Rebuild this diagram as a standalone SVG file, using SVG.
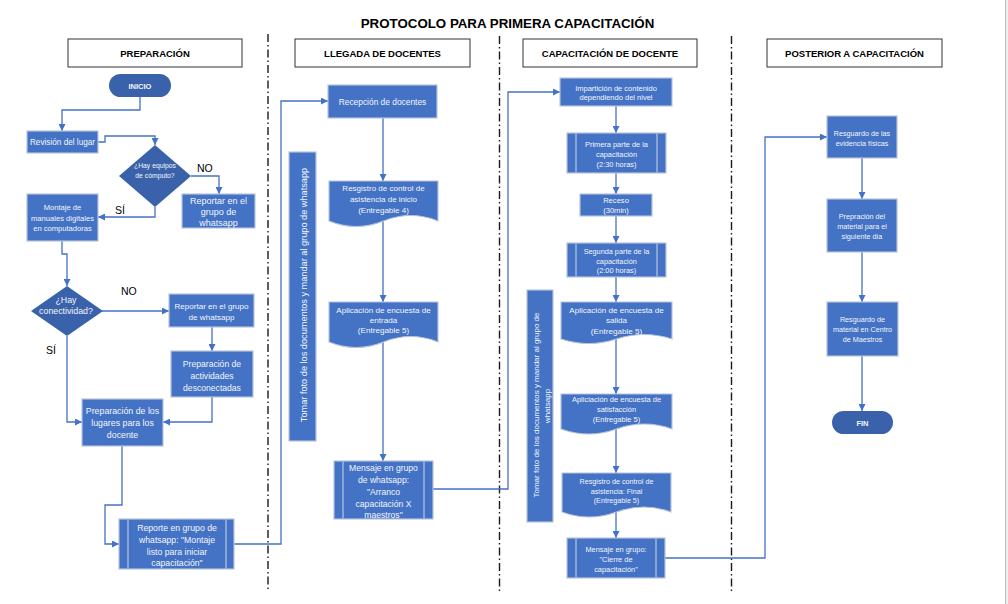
<svg xmlns="http://www.w3.org/2000/svg" width="1008" height="604" viewBox="0 0 1008 604">
<style>
.t{font-family:"Liberation Sans",Arial,sans-serif;fill:#F3F6FC;text-anchor:middle}
.tb{font-family:"Liberation Sans",Arial,sans-serif;fill:#F3F6FC;text-anchor:middle;font-weight:bold}
.h{font-family:"Liberation Sans",Arial,sans-serif;fill:#000;text-anchor:middle;font-weight:bold;font-size:9.5px}
.lbl{font-family:"Liberation Sans",Arial,sans-serif;fill:#000;font-size:10.5px}
.box{fill:#4472C4;stroke:#B7C3DA;stroke-width:1.2}
.dark{fill:#3A62AA}
.hdr{fill:#fff;stroke:#333;stroke-width:1}
.inner{stroke:#C3CDE3;stroke-width:1.1;fill:none}
.sep{stroke:#1a1a1a;stroke-width:1.4;stroke-dasharray:8 3 1.5 3;fill:none}
.ca{fill:none;stroke:#4472C4;stroke-width:1.3;marker-end:url(#arr)}
</style>
<defs>
<marker id="arr" viewBox="0 0 10 10" refX="10" refY="5" markerWidth="7" markerHeight="7" markerUnits="userSpaceOnUse" orient="auto"><path d="M0,0 L10,5 L0,10 z" fill="#4472C4"/></marker>
</defs>
<rect width="1008" height="604" fill="#fff"/>
<rect x="1005" y="0" width="3" height="604" fill="#EEEEEE"/>
<line x1="1005.5" y1="0" x2="1005.5" y2="604" stroke="#BDBDBD" stroke-width="1"/>

<text x="507.5" y="28" style="font-family:'Liberation Sans',Arial,sans-serif;font-weight:bold;font-size:13.3px;text-anchor:middle;fill:#000">PROTOCOLO PARA PRIMERA CAPACITACIÓN</text>

<g id="separators">
<line class="sep" x1="268" y1="34" x2="268" y2="589"/>
<line class="sep" x1="499.5" y1="36" x2="499.5" y2="592"/>
<line class="sep" x1="731.5" y1="36" x2="731.5" y2="592"/>
</g>

<g id="header-preparacion"><rect class="hdr" x="68" y="39" width="174" height="28"/><text class="h" x="155" y="57">PREPARACIÓN</text></g>
<g id="header-llegada"><rect class="hdr" x="295" y="39" width="175" height="28"/><text class="h" x="382.5" y="57">LLEGADA DE DOCENTES</text></g>
<g id="header-capacitacion"><rect class="hdr" x="523" y="39" width="174" height="28"/><text class="h" x="610" y="57">CAPACITACIÓN DE DOCENTE</text></g>
<g id="header-posterior"><rect class="hdr" x="767" y="39" width="175" height="28"/><text class="h" x="854.5" y="57">POSTERIOR A CAPACITACIÓN</text></g>

<g id="connectors">
<polyline class="ca" points="140,97 140,110 62,110 62,131"/>
<polyline class="ca" points="98,142 105,142 105,136 155,136 155,145"/>
<polyline class="ca" points="191,176 219,176 219,194"/>
<polyline class="ca" points="155,207 155,217 98,217"/>
<polyline class="ca" points="62,241 62,254 67,254 67,286"/>
<polyline class="ca" points="102,311 169,311"/>
<polyline class="ca" points="212,327 212,351"/>
<polyline class="ca" points="212,397 212,422 163,422"/>
<polyline class="ca" points="67,336 67,422 82,422"/>
<polyline class="ca" points="122,446 122,505 105,505 105,544 119,544"/>
<polyline class="ca" points="234,544 281,544 281,101 328,101"/>
<polyline class="ca" points="383,118 383,181"/>
<polyline class="ca" points="383,221 383,302"/>
<polyline class="ca" points="383,342 383,461"/>
<polyline class="ca" points="433,489 508,489 508,92 560,92"/>
<polyline class="ca" points="616,106 616,133"/>
<polyline class="ca" points="616,173 616,194"/>
<polyline class="ca" points="616,216 616,243"/>
<polyline class="ca" points="616,277 616,302"/>
<polyline class="ca" points="616,339 616,394"/>
<polyline class="ca" points="616,429 616,473"/>
<polyline class="ca" points="616,512 616,538"/>
<polyline class="ca" points="665,558 765,558 765,137 827,137"/>
<polyline class="ca" points="862,158 862,199"/>
<polyline class="ca" points="862,252 862,302"/>
<polyline class="ca" points="862,356 862,411"/>
</g>

<g id="inicio"><rect class="dark" x="109" y="74" width="62" height="23" rx="11.5"/><text class="tb" x="140" y="88.5" font-size="7.5">INICIO</text></g>
<g id="revision"><rect class="box" x="27" y="131" width="71" height="22"/><text class="t" x="62.5" y="145" font-size="8.2">Revisión del lugar</text></g>
<g id="dec-equipos"><polygon class="dark" points="155,145 191,176 155,207 119,176"/><text class="t" x="155" y="168" font-size="6.8">¿Hay equipos</text><text class="t" x="155" y="178" font-size="6.8">de cómputo?</text></g>
<g id="reportar1"><rect class="box" x="182" y="194" width="73" height="34"/><text class="t" x="218.5" y="204" font-size="9">Reportar en el</text><text class="t" x="218.5" y="215" font-size="9">grupo de</text><text class="t" x="218.5" y="226" font-size="9">whatsapp</text></g>
<g id="montaje"><rect class="box" x="27" y="194" width="71" height="47"/><text class="t" x="62.5" y="210" font-size="7.6">Montaje de</text><text class="t" x="62.5" y="220.5" font-size="7.6">manuales digitales</text><text class="t" x="62.5" y="231" font-size="7.6">en computadoras</text></g>
<g id="dec-conectividad"><polygon class="dark" points="67,286 103,311 67,336 31,311"/><text class="t" x="66" y="303" font-size="8.8">¿Hay</text><text class="t" x="66" y="314" font-size="8.8">conectividad?</text></g>
<g id="reportar2"><rect class="box" x="169" y="294" width="85" height="33"/><text class="t" x="211.5" y="309" font-size="8.1">Reportar en el grupo</text><text class="t" x="211.5" y="319.5" font-size="8.1">de whatsapp</text></g>
<g id="prep-actividades"><rect class="box" x="171" y="351" width="82" height="46"/><text class="t" x="212" y="366.5" font-size="8.6">Preparación de</text><text class="t" x="212" y="378.5" font-size="8.6">actividades</text><text class="t" x="212" y="390.5" font-size="8.6">desconectadas</text></g>
<g id="prep-lugares"><rect class="box" x="82" y="399" width="81" height="47"/><text class="t" x="122.5" y="414" font-size="8.8">Preparación de los</text><text class="t" x="122.5" y="426" font-size="8.8">lugares para los</text><text class="t" x="122.5" y="437.5" font-size="8.8">docente</text></g>
<g id="reporte-montaje"><rect class="box" x="119" y="519" width="115" height="50"/><line class="inner" x1="128" y1="519.5" x2="128" y2="568.5"/><line class="inner" x1="226" y1="519.5" x2="226" y2="568.5"/><text class="t" x="177" y="530.5" font-size="8.7">Reporte en grupo de</text><text class="t" x="177" y="542.5" font-size="8.7">whatsapp: "Montaje</text><text class="t" x="177" y="554.5" font-size="8.7">listo para iniciar</text><text class="t" x="177" y="566" font-size="8.7">capacitación"</text></g>
<g id="labels-prep"><text class="lbl" x="197" y="172">NO</text><text class="lbl" x="115" y="214">SÍ</text><text class="lbl" x="121" y="295">NO</text><text class="lbl" x="46" y="354">SÍ</text></g>

<g id="recepcion"><rect class="box" x="328" y="85" width="109" height="33"/><text class="t" x="382.5" y="105" font-size="8.4">Recepción de docentes</text></g>
<g id="registro-inicio"><path class="box" d="M329,181 H438 V221 Q410.75,210 383.5,221 T329,221 Z"/><text class="t" x="383.5" y="191" font-size="8">Resgistro de control de</text><text class="t" x="383.5" y="202" font-size="8">asistencia de inicio</text><text class="t" x="383.5" y="212.5" font-size="8">(Entregable 4)</text></g>
<g id="encuesta-entrada"><path class="box" d="M329,302 H438 V342 Q410.75,331 383.5,342 T329,342 Z"/><text class="t" x="383.5" y="312.5" font-size="8.1">Aplicación de encuesta de</text><text class="t" x="383.5" y="322.5" font-size="8.1">entrada</text><text class="t" x="383.5" y="333" font-size="8.1">(Entregable 5)</text></g>
<g id="mensaje-arranco"><rect class="box" x="334" y="461" width="99" height="58"/><line class="inner" x1="343" y1="461.5" x2="343" y2="518.5"/><line class="inner" x1="424" y1="461.5" x2="424" y2="518.5"/><text class="t" x="383.5" y="470.5" font-size="8.6">Mensaje en grupo</text><text class="t" x="383.5" y="482.5" font-size="8.6">de whatsapp:</text><text class="t" x="383.5" y="494.5" font-size="8.6">"Arranco</text><text class="t" x="383.5" y="506.5" font-size="8.6">capacitación X</text><text class="t" x="383.5" y="518" font-size="8.6">maestros"</text></g>
<g id="foto-llegada"><rect class="box" x="289" y="152" width="27" height="289"/><text class="t" transform="translate(306.5,295) rotate(-90)" font-size="9.2">Tomar foto de los documentos y mandar al grupo de whatsapp</text></g>

<g id="imparticion"><rect class="box" x="560" y="78" width="112" height="28"/><text class="t" x="616" y="91" font-size="7.5">Impartición de contenido</text><text class="t" x="616" y="99.5" font-size="7.5">dependiendo del nivel</text></g>
<g id="primera-parte"><rect class="box" x="567" y="133" width="99" height="40"/><line class="inner" x1="576" y1="133.5" x2="576" y2="172.5"/><line class="inner" x1="657" y1="133.5" x2="657" y2="172.5"/><text class="t" x="616.5" y="147" font-size="7.4">Primera parte de la</text><text class="t" x="616.5" y="157" font-size="7.4">capacitación</text><text class="t" x="616.5" y="166.5" font-size="7.4">(2:30 horas)</text></g>
<g id="receso"><rect class="box" x="580" y="194" width="72" height="22"/><text class="t" x="616" y="203" font-size="7.6">Receso</text><text class="t" x="616" y="213" font-size="7.6">(30min)</text></g>
<g id="segunda-parte"><rect class="box" x="567" y="243" width="99" height="34"/><line class="inner" x1="576" y1="243.5" x2="576" y2="276.5"/><line class="inner" x1="657" y1="243.5" x2="657" y2="276.5"/><text class="t" x="616.5" y="254" font-size="7.3">Segunda parte de la</text><text class="t" x="616.5" y="263.5" font-size="7.3">capacitación</text><text class="t" x="616.5" y="273" font-size="7.3">(2:00 horas)</text></g>
<g id="encuesta-salida"><path class="box" d="M561,302 H672 V339 Q644.25,330 616.5,339 T561,339 Z"/><text class="t" x="616.5" y="312.5" font-size="8.1">Aplicación de encuesta de</text><text class="t" x="616.5" y="322.5" font-size="8.1">salida</text><text class="t" x="616.5" y="334" font-size="8.1">(Entregable 5)</text></g>
<g id="encuesta-satisfaccion"><path class="box" d="M561,394 H672 V429 Q644.25,419 616.5,429 T561,429 Z"/><text class="t" x="616.5" y="402" font-size="7.5">Apliciación de encuesta de</text><text class="t" x="616.5" y="412" font-size="7.5">satisfacción</text><text class="t" x="616.5" y="422" font-size="7.5">(Entregable 5)</text></g>
<g id="registro-final"><path class="box" d="M562,473 H671 V512 Q643.75,502 616.5,512 T562,512 Z"/><text class="t" x="616.5" y="484" font-size="7.2">Resgistro de control de</text><text class="t" x="616.5" y="493.5" font-size="7.2">asistencia: Final</text><text class="t" x="616.5" y="503" font-size="7.2">(Entregable 5)</text></g>
<g id="mensaje-cierre"><rect class="box" x="567" y="538" width="98" height="40"/><line class="inner" x1="576" y1="538.5" x2="576" y2="577.5"/><line class="inner" x1="656" y1="538.5" x2="656" y2="577.5"/><text class="t" x="616" y="552" font-size="7.4">Mensaje en grupo:</text><text class="t" x="616" y="562" font-size="7.4">"Cierre de</text><text class="t" x="616" y="572" font-size="7.4">capacitación"</text></g>
<g id="foto-capacitacion"><rect class="box" x="527" y="290" width="26" height="232"/><text class="t" transform="translate(539,405) rotate(-90)" font-size="8">Tomar foto de los documentos y mandar al grupo de</text><text class="t" transform="translate(550,406) rotate(-90)" font-size="8">whatsapp</text></g>

<g id="resguardo-evidencia"><rect class="box" x="827" y="116" width="70" height="42"/><text class="t" x="862" y="136" font-size="7.2">Resguardo de las</text><text class="t" x="862" y="145.5" font-size="7.2">evidencia físicas</text></g>
<g id="preparacion-material"><rect class="box" x="827" y="199" width="70" height="53"/><text class="t" x="862" y="219" font-size="7.2">Prepración del</text><text class="t" x="862" y="229" font-size="7.2">material para el</text><text class="t" x="862" y="238.5" font-size="7.2">siguiente día</text></g>
<g id="resguardo-material"><rect class="box" x="827" y="302" width="71" height="54"/><text class="t" x="862.5" y="322" font-size="7.2">Resguardo de</text><text class="t" x="862.5" y="332" font-size="7.2">material en Centro</text><text class="t" x="862.5" y="341.5" font-size="7.2">de Maestros</text></g>
<g id="fin"><rect class="dark" x="832" y="411" width="61" height="23" rx="11.5"/><text class="tb" x="862.5" y="425.5" font-size="7.5">FIN</text></g>
</svg>
